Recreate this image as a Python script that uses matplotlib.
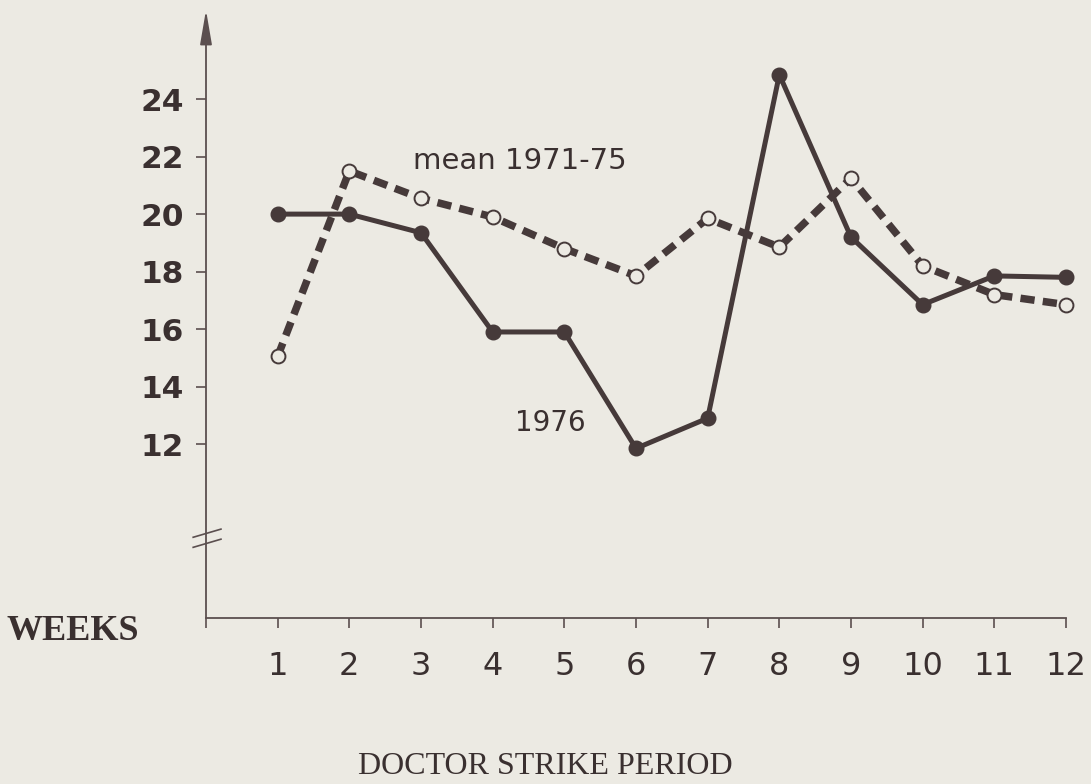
import matplotlib
matplotlib.use("Agg")
import matplotlib.pyplot as plt

# Strike periods and lengths (weeks)
periods = [1, 2, 3, 4, 5, 6, 7, 8, 9, 10, 11, 12]
weeks_1976 = [20.0, 20.0, 19.35, 15.9, 15.9, 11.85, 12.9, 24.85, 19.2, 16.85, 17.85, 17.8]
weeks_mean_1971_75 = [15.05, 21.5, 20.55, 19.9, 18.8, 17.85, 19.85, 18.85, 21.25, 18.2, 17.2, 16.85]
y_ticks = [12, 14, 16, 18, 20, 22, 24]
x_tick_labels = [str(p) for p in periods]

BG = "#ECEAE3"
INK = "#463a3a"
AXIS = "#5b4f4f"
TEXT = "#3a3030"

W, H = 1091, 784
fig = plt.figure(figsize=(W / 100, H / 100), dpi=100, facecolor=BG)

# axes frame in pixels: left edge at x=0, bottom edge at the x axis line
left_px, right_px = 206, 1066
bottom_px, top_px = 618, 10
ax = fig.add_axes([left_px / W, 1 - bottom_px / H,
                   (right_px - left_px) / W, (bottom_px - top_px) / H])
ax.set_facecolor(BG)

y_lo, y_hi = 5.95, 27.1
ax.set_xlim(0, 12)
ax.set_ylim(y_lo, y_hi)

for s in ("top", "right", "left"):
    ax.spines[s].set_visible(False)
ax.spines["bottom"].set_color(AXIS)
ax.spines["bottom"].set_linewidth(1.3)

# vertical axis with arrowhead
ax.annotate("", xy=(0, y_hi), xytext=(0, y_lo), xycoords="data",
            arrowprops=dict(arrowstyle="-|>,head_length=2.1,head_width=0.36",
                            mutation_scale=10, color=AXIS, lw=1.3,
                            shrinkA=0, shrinkB=0),
            annotation_clip=False)

# axis break marks on the vertical axis
break_x = [-0.19, 0.22]
for y0 in (8.4, 8.75):
    ax.plot(break_x, [y0, y0 + 0.3], color=AXIS, lw=1.2, clip_on=False,
            solid_capstyle="butt")

# ticks
ax.set_yticks(y_ticks)
ax.set_yticklabels([str(v) for v in y_ticks], fontfamily="DejaVu Sans",
                   fontweight="bold", fontsize=22.5, color=TEXT)
ax.tick_params(axis="y", direction="out", length=7, width=1.2, color=AXIS, pad=9)

ax.set_xticks([0] + periods)
ax.set_xticklabels([""] + x_tick_labels, fontfamily="DejaVu Sans",
                   fontsize=23, color=TEXT)
ax.tick_params(axis="x", direction="out", length=7, width=1.2, color=AXIS, pad=17)

# series
ax.plot(periods, weeks_mean_1971_75, color=INK, lw=5.4,
        linestyle=(0, (1.9, 1.1)), dash_capstyle="butt", zorder=3,
        clip_on=False)
ax.plot(periods, weeks_1976, color=INK, lw=3.6, marker="o", markersize=10.5,
        markerfacecolor=INK, markeredgecolor=INK, zorder=4, clip_on=False)
ax.plot(periods, weeks_mean_1971_75, linestyle="none", marker="o",
        markersize=10, markerfacecolor=BG, markeredgecolor=INK,
        markeredgewidth=1.4, zorder=5, clip_on=False)

# series labels
ax.text(4.38, 21.85, "mean 1971-75", fontfamily="DejaVu Sans", fontsize=21,
        color=TEXT, ha="center", va="center")
ax.text(4.8, 12.75, "1976", fontfamily="DejaVu Sans", fontsize=20,
        color=TEXT, ha="center", va="center")

# axis titles
fig.text(73 / W, 1 - 631 / H, "WEEKS", fontfamily="Liberation Serif",
         fontweight="bold", fontsize=26, color=TEXT,
         ha="center", va="center")
fig.text(545 / W, 1 - 766 / H, "DOCTOR STRIKE PERIOD",
         fontfamily="Liberation Serif", fontsize=23, color=TEXT,
         ha="center", va="center")

fig.savefig("out.png", dpi=100, facecolor=BG)
